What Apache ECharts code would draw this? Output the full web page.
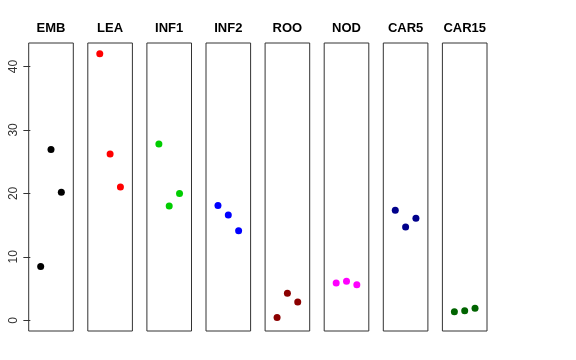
<!DOCTYPE html>
<html><head><meta charset="utf-8">
<script src="https://cdn.jsdelivr.net/npm/echarts@6/dist/echarts.min.js"></script>
<style>html,body{margin:0;padding:0;background:#fff}#c{width:576px;height:360px}</style>
</head><body><div id="c"></div>
<script>
var categories = ['EMB','LEA','INF1','INF2','ROO','NOD','CAR5','CAR15'];
var xPositions = [1, 2, 3];
var EMB = [8.5, 26.9, 20.2];
var LEA = [42.0, 26.2, 21.0];
var INF1 = [27.8, 18.0, 20.0];
var INF2 = [18.1, 16.6, 14.1];
var ROO = [0.45, 4.25, 2.9];
var NOD = [5.9, 6.15, 5.6];
var CAR5 = [17.35, 14.7, 16.1];
var CAR15 = [1.35, 1.5, 1.9];
var yTicks = [0, 10, 20, 30, 40];
var seriesValues = [EMB, LEA, INF1, INF2, ROO, NOD, CAR5, CAR15];
var colors = ['#000000','#FF0000','#00CD00','#0000FF','#8B0000','#FF00FF','#00008B','#006400'];

(function(){
var chart = echarts.init(document.getElementById('c'));
var grids = [], xAxes = [], yAxes = [], series = [], titles = [];
var left0 = 28.7, step = 59.1, w = 44.6, gTop = 43, h = 288;
categories.forEach(function(cat, i){
  var l = left0 + i*step;
  grids.push({left: l, top: gTop, width: w, height: h, show: true, borderColor: '#333', borderWidth: 1, backgroundColor: 'transparent', containLabel: false});
  xAxes.push({type: 'value', gridIndex: i, min: -0.16, max: 4.16, show: false});
  yAxes.push({type: 'value', gridIndex: i, min: -1.68, max: 43.7, show: i === 0,
    axisLine: {show: false},
    axisTick: {show: true, length: 7, inside: false, customValues: yTicks, lineStyle: {color: '#333'}},
    axisLabel: {show: true, customValues: yTicks, rotate: 90, margin: 9, fontSize: 12, color: '#333', fontFamily: 'Liberation Sans, Arial, sans-serif'},
    splitLine: {show: false}});
  series.push({type: 'scatter', xAxisIndex: i, yAxisIndex: i, symbolSize: 7,
    itemStyle: {color: colors[i], opacity: 1},
    data: xPositions.map(function(x, j){ return [x, seriesValues[i][j]]; })});
  titles.push({text: cat, left: l + w/2, top: 22, textAlign: 'center', padding: 0,
    textStyle: {fontSize: 13, fontWeight: 'bold', color: '#000', fontFamily: 'Liberation Sans, Arial, sans-serif'}});
});
chart.setOption({animation: false, title: titles, grid: grids, xAxis: xAxes, yAxis: yAxes, series: series});
})();
</script></body></html>
